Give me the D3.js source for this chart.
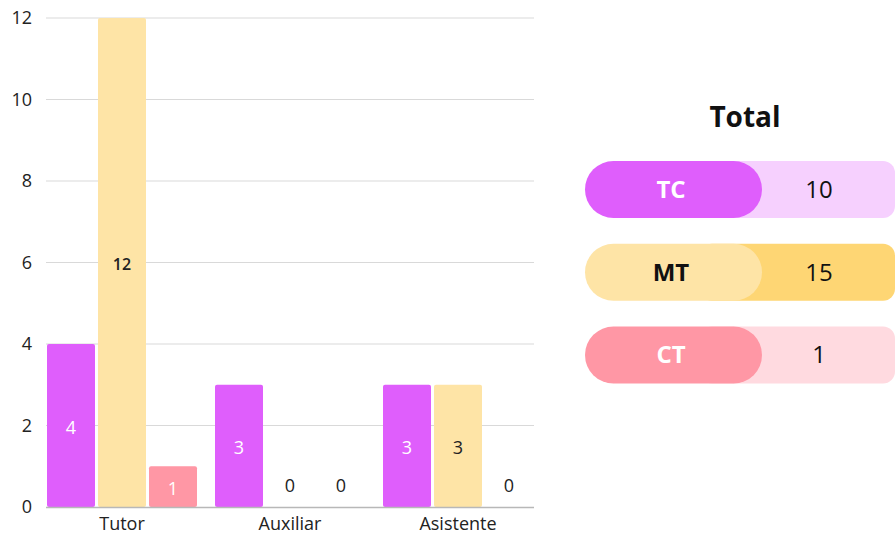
<!DOCTYPE html>
<html>
<head>
<meta charset="utf-8">
<script src="https://cdn.jsdelivr.net/npm/d3@7/dist/d3.min.js"></script>
<style>
  html, body { margin: 0; padding: 0; background: #fff; }
  svg { display: block; font-family: "Open Sans", "Noto Sans", sans-serif; }
</style>
</head>
<body>
<svg id="chart" width="895" height="536"></svg>
<script>
// Categories and series
const categories = ["Tutor", "Auxiliar", "Asistente"];
const seriesNames = ["TC", "MT", "CT"];
const tcValues = [4, 3, 3];
const mtValues = [12, 0, 3];
const ctValues = [1, 0, 0];
const yTicks = [0, 2, 4, 6, 8, 10, 12];
// Totals shown in the side panel
const totalLabels = ["TC", "MT", "CT"];
const totalValues = [10, 15, 1];

const seriesValues = { TC: tcValues, MT: mtValues, CT: ctValues };
const barColor = { TC: "#df5efc", MT: "#fee4a6", CT: "#ff97a5" };
const labelColor = { TC: "#ffffff", MT: "#222222", CT: "#ffffff" };
const pillLeft = { TC: "#df5efc", MT: "#fee4a6", CT: "#ff97a5" };
const pillRight = { TC: "#f6d0fe", MT: "#fed674", CT: "#ffdae0" };
const pillText = { TC: "#ffffff", MT: "#111111", CT: "#ffffff" };

const svg = d3.select("#chart");

const plotLeft = 46, plotRight = 534, plotTop = 18, plotBottom = 507;

const y = d3.scaleLinear().domain([0, 12]).range([plotBottom, plotTop]);
const x0 = d3.scaleBand().domain(categories).range([38, 542]);
const x1 = d3.scaleBand().domain(seriesNames).range([7.5, 160.5])
  .paddingInner(3 / 51).paddingOuter(1.5 / 51);

// Gridlines
svg.append("g").selectAll("line").data(yTicks.filter(t => t > 0)).join("line")
  .attr("x1", plotLeft).attr("x2", plotRight)
  .attr("y1", d => y(d)).attr("y2", d => y(d))
  .attr("stroke", "#d9d9d9").attr("stroke-width", 1);

// Y axis labels
const yAxis = svg.append("g")
  .attr("transform", `translate(${plotLeft},0)`)
  .call(d3.axisLeft(y).tickValues(yTicks).tickSize(0).tickPadding(14));
yAxis.select(".domain").remove();
yAxis.selectAll("text").attr("font-size", 18).attr("fill", "#222")
  .attr("font-family", "'Open Sans', sans-serif");

// Bars
const groups = svg.append("g").selectAll("g").data(categories).join("g")
  .attr("transform", d => `translate(${x0(d)},0)`);

groups.each(function(cat, i) {
  const g = d3.select(this);
  seriesNames.forEach(s => {
    const v = seriesValues[s][i];
    if (v > 0) {
      g.append("rect")
        .attr("x", x1(s)).attr("width", x1.bandwidth())
        .attr("y", y(v)).attr("height", y(0) - y(v))
        .attr("rx", 2).attr("fill", barColor[s]);
    }
    const ty = v > 0 ? (y(v) + y(0)) / 2 + 2 : y(0) - 21;
    g.append("text")
      .attr("x", x1(s) + x1.bandwidth() / 2)
      .attr("y", ty)
      .attr("dy", "0.35em")
      .attr("text-anchor", "middle")
      .attr("font-size", v >= 10 ? 16 : 18)
      .attr("font-weight", v >= 10 ? 600 : 400)
      .attr("fill", v > 0 ? labelColor[s] : "#222")
      .text(v);
  });
});

// Baseline
svg.append("line")
  .attr("x1", plotLeft).attr("x2", plotRight)
  .attr("y1", y(0) + 0.5).attr("y2", y(0) + 0.5)
  .attr("stroke", "#b8b8b8").attr("stroke-width", 1.5);

// X axis labels
svg.append("g").selectAll("text").data(categories).join("text")
  .attr("x", d => x0(d) + x0.bandwidth() / 2)
  .attr("y", 524).attr("dy", "0.35em")
  .attr("text-anchor", "middle").attr("font-size", 18).attr("fill", "#222")
  .text(d => d);

// Totals panel
svg.append("text")
  .attr("x", 745).attr("y", 117).attr("dy", "0.35em")
  .attr("text-anchor", "middle").attr("font-size", 28).attr("font-weight", 700)
  .attr("fill", "#111").text("Total");

const rowY = d3.scalePoint().domain(totalLabels).range([189.5, 355]);
const pillH = 57;
const rows = svg.append("g").selectAll("g").data(totalLabels).join("g")
  .attr("transform", d => `translate(0,${rowY(d) - pillH / 2})`);

rows.append("rect")
  .attr("x", 700).attr("y", 0).attr("width", 195).attr("height", pillH)
  .attr("rx", 12).attr("fill", d => pillRight[d]);
rows.append("rect")
  .attr("x", 585).attr("y", 0).attr("width", 177).attr("height", pillH)
  .attr("rx", pillH / 2).attr("fill", d => pillLeft[d]);
rows.append("text")
  .attr("x", 671).attr("y", pillH / 2).attr("dy", "0.35em")
  .attr("text-anchor", "middle").attr("font-size", 24).attr("font-weight", 700)
  .attr("fill", d => pillText[d]).text(d => d);
rows.append("text")
  .attr("x", 819).attr("y", pillH / 2).attr("dy", "0.35em")
  .attr("text-anchor", "middle").attr("font-size", 24)
  .attr("fill", "#111").text((d, i) => totalValues[i]);
</script>
</body>
</html>
